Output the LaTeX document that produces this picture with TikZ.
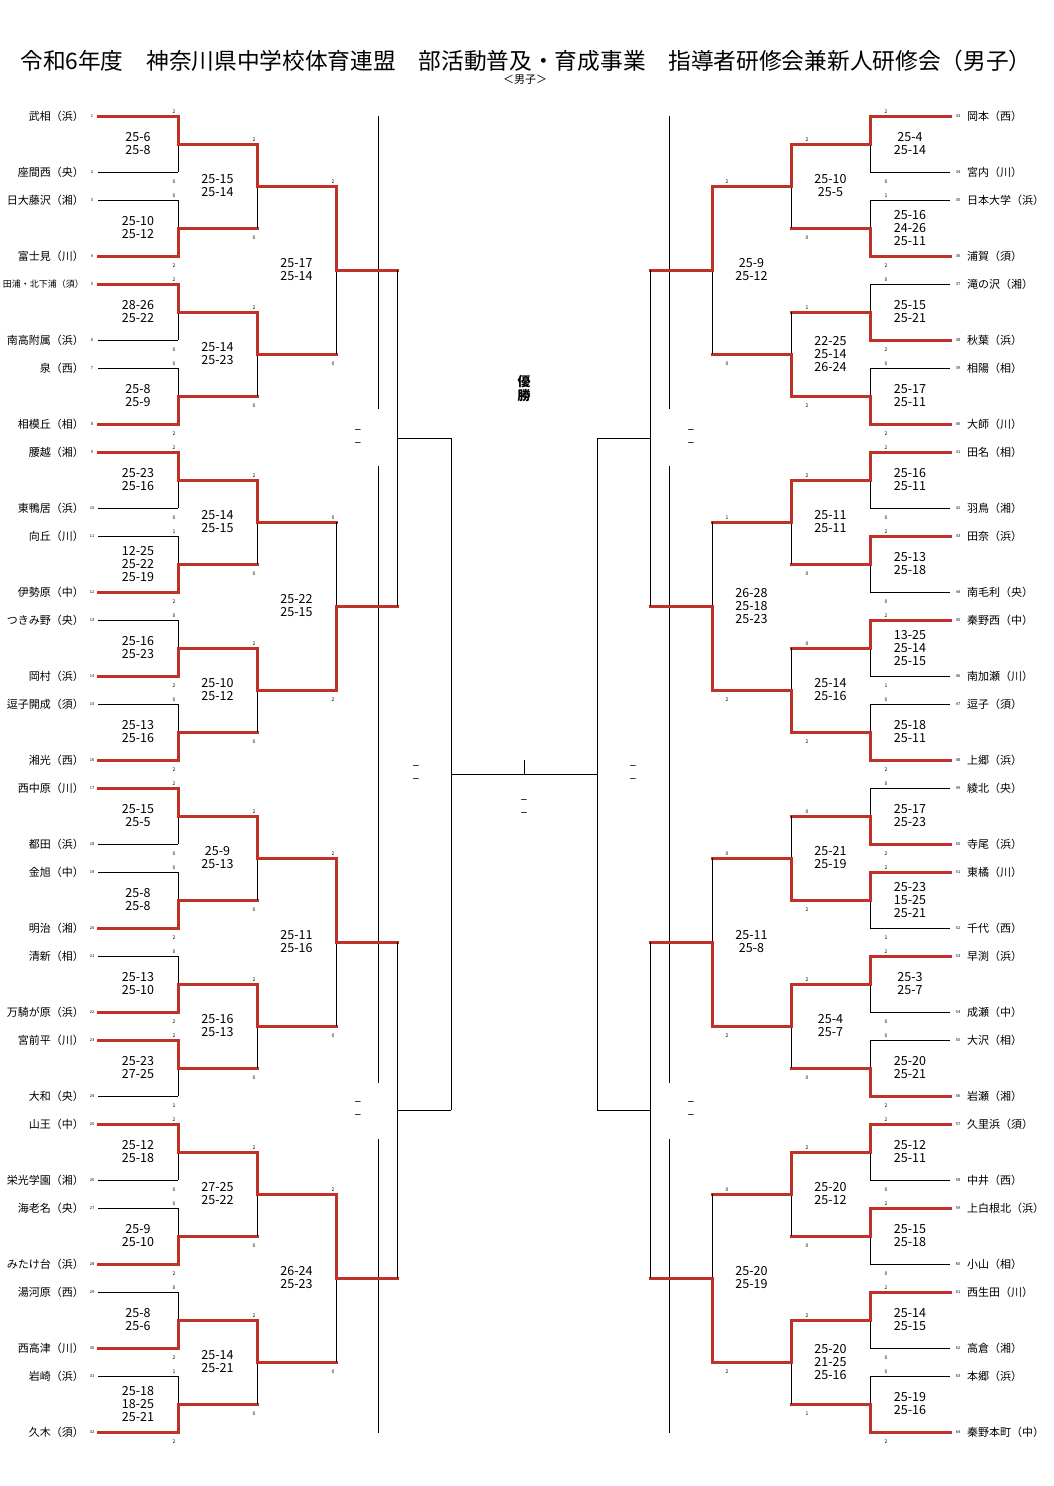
\documentclass[tikz,border=0pt]{standalone}
\usepackage{fontspec}
\setmainfont{Noto Sans CJK JP}
\definecolor{winred}{RGB}{192,50,40}

\tikzset{
  lose/.style={draw=black, line width=0.9pt},
  win/.style={draw=winred, line width=3pt, line cap=rect},
  team/.style={font=\fontsize{11}{11}\selectfont, inner sep=0pt},
  seed/.style={font=\fontsize{4}{4}\selectfont, inner sep=0pt},
  sets/.style={font=\fontsize{5}{5}\selectfont, inner sep=0pt},
  score/.style={font=\fontsize{12.5}{13}\selectfont, align=center, inner sep=0pt},
}

% a bout: vertical at x=#1, result line on to x=#2, entries at y=#3 and y=#4,
% winner #5 (0 = not played, 1 = upper, 2 = lower)
\newcommand{\bout}[5]{%
  \coordinate (mt) at (#1,#3);
  \coordinate (mb) at (#1,#4);
  \coordinate (mm) at (#1,{(#3+#4)/2});
  \coordinate (mo) at (#2,{(#3+#4)/2});
  \ifcase#5\relax
    \draw[lose] (mt) -- (mb); \draw[lose] (mm) -- (mo);
  \or
    \draw[lose] (mm) -- (mb); \draw[win] (mt) -- (mm) -- (mo);
  \or
    \draw[lose] (mt) -- (mm); \draw[win] (mb) -- (mm) -- (mo);
  \fi}

\begin{document}
\begin{tikzpicture}[x=1pt, y=-1pt]
  \useasboundingbox (0,0) rectangle (1053,1486);
  \fill[white] (0,0) rectangle (1053,1486);

  \node[font=\fontsize{22.7}{22.7}\selectfont] (title) at (526,61) {令和6年度　神奈川県中学校体育連盟　部活動普及・育成事業　指導者研修会兼新人研修会（男子）};
  \node[font=\fontsize{11}{11}\selectfont, inner sep=0pt] (sub) at (525,80) {＜男子＞};
  \node[font=\fontsize{13}{14}\selectfont\bfseries, align=center, inner sep=0pt] (champ) at (524,389) {優\\勝};

  % broken guide lines
  \foreach \x in {378,669} {
    \draw[lose] (\x,116) -- (\x,409);
    \draw[lose] (\x,466) -- (\x,1083);
    \draw[lose] (\x,1139) -- (\x,1433);
  }

  % teams, left
  \foreach \nm [count=\i] in {武相（浜）,座間西（央）,日大藤沢（湘）,富士見（川）,{\fontsize{9}{9}\selectfont 田浦・北下浦（須）},南高附属（浜）,泉（西）,相模丘（相）,腰越（湘）,東鴨居（浜）,向丘（川）,伊勢原（中）,つきみ野（央）,岡村（浜）,逗子開成（須）,湘光（西）,西中原（川）,都田（浜）,金旭（中）,明治（湘）,清新（相）,万騎が原（浜）,宮前平（川）,大和（央）,山王（中）,栄光学園（湘）,海老名（央）,みたけ台（浜）,湯河原（西）,西高津（川）,岩崎（浜）,久木（須）}{
    \pgfmathsetmacro\ty{116+84*floor((\i-1)/2)+56*mod(\i-1,2)}
    \node[team, anchor=east] (nL\i) at (84,\ty) {\nm};
    \node[seed] (kL\i) at (92,\ty) {\i};
  }
  % teams, right
  \foreach \nm [count=\i from 33] in {岡本（西）,宮内（川）,日本大学（浜）,浦賀（須）,滝の沢（湘）,秋葉（浜）,相陽（相）,大師（川）,田名（相）,羽鳥（湘）,田奈（浜）,南毛利（央）,秦野西（中）,南加瀬（川）,逗子（須）,上郷（浜）,綾北（央）,寺尾（浜）,東橘（川）,千代（西）,早渕（浜）,成瀬（中）,大沢（相）,岩瀬（湘）,久里浜（須）,中井（西）,上白根北（浜）,小山（相）,西生田（川）,高倉（湘）,本郷（浜）,秦野本町（中）}{
    \pgfmathsetmacro\ty{116+84*floor((\i-33)/2)+56*mod(\i-33,2)}
    \node[team, anchor=west] (nR\i) at (967,\ty) {\nm};
    \node[seed] (kR\i) at (958,\ty) {\i};
  }

  % first round, left
  \foreach \m/\w/\st/\sb/\sc in {0/1/2/0/{25-6\\25-8}, 1/2/0/2/{25-10\\25-12}, 2/1/2/0/{28-26\\25-22}, 3/2/0/2/{25-8\\25-9},
      4/1/2/0/{25-23\\25-16}, 5/2/1/2/{12-25\\25-22\\25-19}, 6/2/0/2/{25-16\\25-23}, 7/2/0/2/{25-13\\25-16},
      8/1/2/0/{25-15\\25-5}, 9/2/0/2/{25-8\\25-8}, 10/2/0/2/{25-13\\25-10}, 11/1/2/1/{25-23\\27-25},
      12/1/2/0/{25-12\\25-18}, 13/2/0/2/{25-9\\25-10}, 14/2/0/2/{25-8\\25-6}, 15/2/1/2/{25-18\\18-25\\25-21}}{
    \pgfmathsetmacro\yt{116+84*\m}
    \pgfmathsetmacro\yb{172+84*\m}
    \coordinate (ta) at (98,\yt);
    \coordinate (tb) at (98,\yb);
    \bout{178}{257}{\yt}{\yb}{\w}
    \ifnum\w=1 \draw[lose] (tb) -- (mb); \draw[win] (ta) -- (mt);
    \else \draw[lose] (ta) -- (mt); \draw[win] (tb) -- (mb); \fi
    \node[sets] (cL1t\m) at (174,{\yt-4}) {\st};
    \node[sets] (cL1b\m) at (174,{\yb+10}) {\sb};
    \node[score] (sL1\m) at (138,{\yt+28}) {\sc};
  }
  % second round, left
  \foreach \m/\w/\st/\sb/\sc in {0/1/2/0/{25-15\\25-14}, 1/1/2/0/{25-14\\25-23}, 2/1/2/0/{25-14\\25-15}, 3/1/2/0/{25-10\\25-12},
      4/1/2/0/{25-9\\25-13}, 5/1/2/0/{25-16\\25-13}, 6/1/2/0/{27-25\\25-22}, 7/1/2/0/{25-14\\25-21}}{
    \pgfmathsetmacro\yt{144+168*\m}
    \pgfmathsetmacro\yb{228+168*\m}
    \bout{257}{336}{\yt}{\yb}{\w}
    \node[sets] (cL2t\m) at (254,{\yt-4}) {\st};
    \node[sets] (cL2b\m) at (254,{\yb+10}) {\sb};
    \node[score] (sL2\m) at (217.5,{\yt+42}) {\sc};
  }
  % third round, left
  \foreach \m/\w/\st/\sb/\sc in {0/1/2/0/{25-17\\25-14}, 1/2/0/2/{25-22\\25-15}, 2/1/2/0/{25-11\\25-16}, 3/1/2/0/{26-24\\25-23}}{
    \pgfmathsetmacro\yt{186+336*\m}
    \pgfmathsetmacro\yb{354+336*\m}
    \bout{336}{397}{\yt}{\yb}{\w}
    \node[sets] (cL3t\m) at (333,{\yt-4}) {\st};
    \node[sets] (cL3b\m) at (333,{\yb+10}) {\sb};
    \node[score] (sL3\m) at (296.5,{\yt+84}) {\sc};
  }

  % first round, right
  \foreach \m/\w/\st/\sb/\sc in {0/1/2/0/{25-4\\25-14}, 1/2/1/2/{25-16\\24-26\\25-11}, 2/2/0/2/{25-15\\25-21}, 3/2/0/2/{25-17\\25-11},
      4/1/2/0/{25-16\\25-11}, 5/1/2/0/{25-13\\25-18}, 6/1/2/1/{13-25\\25-14\\25-15}, 7/2/0/2/{25-18\\25-11},
      8/2/0/2/{25-17\\25-23}, 9/1/2/1/{25-23\\15-25\\25-21}, 10/1/2/0/{25-3\\25-7}, 11/2/0/2/{25-20\\25-21},
      12/1/2/0/{25-12\\25-11}, 13/1/2/0/{25-15\\25-18}, 14/1/2/0/{25-14\\25-15}, 15/2/0/2/{25-19\\25-16}}{
    \pgfmathsetmacro\yt{116+84*\m}
    \pgfmathsetmacro\yb{172+84*\m}
    \coordinate (ta) at (950,\yt);
    \coordinate (tb) at (950,\yb);
    \bout{870}{791}{\yt}{\yb}{\w}
    \ifnum\w=1 \draw[lose] (tb) -- (mb); \draw[win] (ta) -- (mt);
    \else \draw[lose] (ta) -- (mt); \draw[win] (tb) -- (mb); \fi
    \node[sets] (cR1t\m) at (886,{\yt-4}) {\st};
    \node[sets] (cR1b\m) at (886,{\yb+10}) {\sb};
    \node[score] (sR1\m) at (910,{\yt+28}) {\sc};
  }
  % second round, right
  \foreach \m/\w/\st/\sb/\sc in {0/1/2/0/{25-10\\25-5}, 1/2/1/2/{22-25\\25-14\\26-24}, 2/1/2/0/{25-11\\25-11}, 3/2/0/2/{25-14\\25-16},
      4/2/0/2/{25-21\\25-19}, 5/1/2/0/{25-4\\25-7}, 6/1/2/0/{25-20\\25-12}, 7/1/2/1/{25-20\\21-25\\25-16}}{
    \pgfmathsetmacro\yt{144+168*\m}
    \pgfmathsetmacro\yb{228+168*\m}
    \bout{791}{712}{\yt}{\yb}{\w}
    \node[sets] (cR2t\m) at (807,{\yt-4}) {\st};
    \node[sets] (cR2b\m) at (807,{\yb+10}) {\sb};
    \node[score] (sR2\m) at (830.5,{\yt+42}) {\sc};
  }
  % third round, right
  \foreach \m/\w/\st/\sb/\sc in {0/1/2/0/{25-9\\25-12}, 1/2/1/2/{26-28\\25-18\\25-23}, 2/2/0/2/{25-11\\25-8}, 3/2/0/2/{25-20\\25-19}}{
    \pgfmathsetmacro\yt{186+336*\m}
    \pgfmathsetmacro\yb{354+336*\m}
    \bout{712}{650}{\yt}{\yb}{\w}
    \node[sets] (cR3t\m) at (727,{\yt-4}) {\st};
    \node[sets] (cR3b\m) at (727,{\yb+10}) {\sb};
    \node[score] (sR3\m) at (751.5,{\yt+84}) {\sc};
  }

  % semifinals and final, not yet played
  \bout{397}{451}{270}{606}{0}
  \bout{397}{451}{942}{1278}{0}
  \bout{650}{597}{270}{606}{0}
  \bout{650}{597}{942}{1278}{0}
  \bout{451}{597}{438}{1110}{0}
  \coordinate (ft) at (597,438);
  \coordinate (fb) at (597,1110);
  \draw[lose] (ft) -- (fb);
  \coordinate (fm) at (524,774);
  \draw[lose] (fm) -- ++(0,-14);

  \foreach \x/\y [count=\k] in {358/438, 358/1110, 416/774, 524/808.5, 633/774, 691/438, 691/1110}
    \node[score] (p\k) at (\x,\y) {–\\–};
\end{tikzpicture}
\end{document}
